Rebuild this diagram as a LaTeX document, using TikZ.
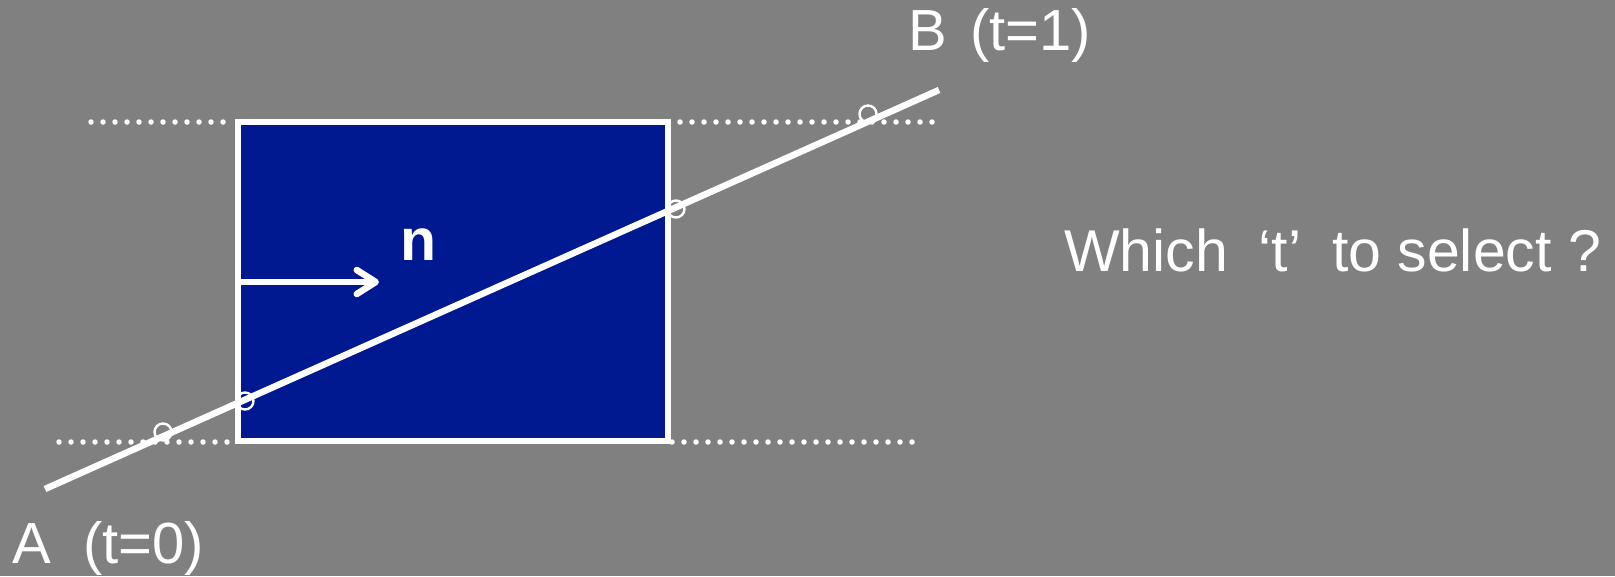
\documentclass[tikz,border=0pt]{standalone}
\usepackage{fontspec}
\setmainfont{Liberation Sans}
\usetikzlibrary{arrows.meta}
\definecolor{bg}{RGB}{128,128,128}
\definecolor{boxblue}{RGB}{0,24,144}
\begin{document}
\begin{tikzpicture}[x=1pt,y=-1pt,
  lbl/.style={text=white, inner sep=0pt, anchor=base west, font=\fontsize{59}{62}\selectfont},
  dotline/.style={white, line width=5.5pt, line cap=round, dash pattern=on 0pt off 12pt},
  ray/.style={white, line width=6.5pt},
  hit/.style={white, line width=2.4pt},
  box/.style={fill=boxblue, draw=white, line width=6pt}]
\useasboundingbox[fill=bg] (0,0) rectangle (1615,576);
\fill[box] (238,122) rectangle (668,441);
\draw[dotline] (91,122) -- (227,122);
\draw[dotline] (680,122) -- (943,122);
\draw[dotline] (59,442) -- (230,442);
\draw[dotline] (672,442) -- (913,442);
\coordinate (A) at (45,489);
\coordinate (B) at (939,90);
\draw[ray] (A) -- (B);
\draw[hit] (163,432) circle (8.5);
\draw[hit] (245,401) circle (8.5);
\draw[hit] (676,209) circle (8.5);
\draw[hit] (868,114) circle (8.5);
\coordinate (n0) at (240,282);
\coordinate (n1) at (379,282);
\draw[white, line width=6.5pt, line join=round, -{Straight Barb[length=19pt,width=24pt,line cap=round,round]}] (n0) -- (n1);
\node[lbl, font=\fontsize{59}{62}\selectfont\bfseries] (nlab) at (400,260) {n};
\node[lbl, font=\fontsize{58}{62}\selectfont] (Alab) at (12,563) {A\ \ (t=0)};
\node[lbl, font=\fontsize{58}{62}\selectfont] (Blab) at (908,50) {B\hspace{0.4em}(t=1)};
\node[lbl] (q) at (1064,271) {Which\hspace{0.52em}‘t’\hspace{0.52em}to select ?};
\end{tikzpicture}
\end{document}
